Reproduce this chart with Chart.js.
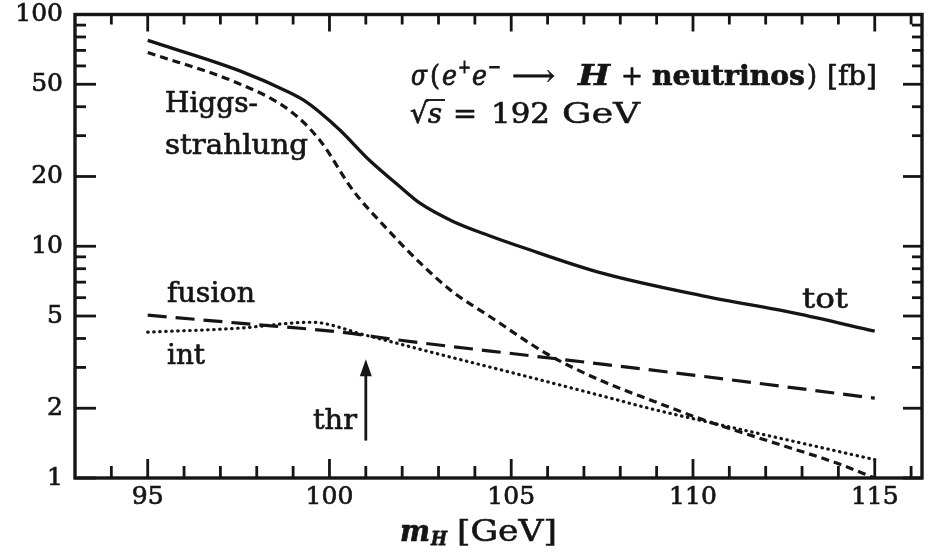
<!DOCTYPE html>
<html>
<head>
<meta charset="utf-8">
<script src="https://cdn.jsdelivr.net/npm/chart.js@4"></script>
<style>
html,body{margin:0;padding:0;background:#fff;}
#wrap{width:941px;height:553px;}
</style>
</head>
<body>
<div id="wrap"><canvas id="c" width="941" height="553"></canvas></div>
<script>
// ---- data (m_H in GeV, sigma in fb) ----
const totMass   = [95, 97.5, 98.9, 99.3, 99.74, 100.3, 101.1, 101.9, 102.5, 103.4, 104.4, 105.3, 107.5, 110.3, 112.8, 115];
const totSigma  = [77.3, 57.4, 46.1, 42.6, 37.8, 31.6, 23.5, 18.3, 15.3, 12.8, 11.1, 9.9, 7.65, 6.09, 5.14, 4.3];

const hsMass    = [95, 97.5, 98.9, 99.74, 100.65, 101.6, 102.5, 103.4, 104.4, 106.0, 107.5, 108.9, 110.3, 112.1, 113.95, 115];
const hsSigma   = [68.6, 50.4, 38.6, 28.6, 17.4, 11.8, 8.45, 6.34, 4.99, 3.42, 2.62, 2.15, 1.78, 1.44, 1.16, 1.0];

const fusMass   = [95, 97.5, 100.3, 101.95, 105.6, 107.5, 110.0, 115];
const fusSigma  = [5.04, 4.66, 4.26, 3.93, 3.36, 3.10, 2.78, 2.21];

const intMass   = [95, 97.5, 99.5, 101.0, 102.8, 105.6, 107.5, 108.9, 110.3, 112.1, 115];
const intSigma  = [4.26, 4.43, 4.70, 4.13, 3.49, 2.70, 2.26, 1.98, 1.76, 1.52, 1.20];

const xTickValues = [95, 100, 105, 110, 115];
const yTickValues = [1, 2, 5, 10, 20, 50, 100];

const thrMass = 101;          // threshold arrow position
const thrArrowFrom = 1.45;    // arrow tail (fb)
const thrArrowTo = 3.25;      // arrow tip (fb)

// ---- helpers ----
const pts = (xs, ys) => xs.map((x, i) => ({x: x, y: ys[i]}));
const INK = '#151515';
const SERIF = '"DejaVu Serif", "Liberation Serif", serif';

// draw text so that it spans [x0, x1] horizontally, vertically centred at yc
function fitText(ctx, t, font, x0, x1, yc) {
  ctx.font = font;
  const w = ctx.measureText(t).width;
  const k = (x1 - x0) / w;
  ctx.save();
  ctx.translate(x0, yc);
  ctx.scale(k, 1);
  ctx.fillText(t, 0, 0);
  ctx.lineWidth = 0.7 / k;
  ctx.strokeText(t, 0, 0);
  ctx.restore();
}

const frameTicks = {
  id: 'frameTicks',
  afterDatasetsDraw(chart) {
    const {ctx, chartArea: a, scales: {x, y}} = chart;
    ctx.save();
    ctx.strokeStyle = INK;
    ctx.fillStyle = INK;
    ctx.lineCap = 'butt';
    const line = (x1, y1, x2, y2) => { ctx.beginPath(); ctx.moveTo(x1, y1); ctx.lineTo(x2, y2); ctx.stroke(); };
    ctx.lineWidth = 2.8;
    for (let m = 94; m <= 116; m++) {
      const px = x.getPixelForValue(m);
      const major = xTickValues.includes(m);
      line(px, a.bottom, px, a.bottom - (major ? 19 : 12));
      line(px, a.top, px, a.top + (major ? 17 : 10));
    }
    for (let d = 1; d <= 100; d *= 10) {
      for (let k = 1; k < 10; k++) {
        const v = d * k;
        if (v > 100) break;
        const py = y.getPixelForValue(v);
        const major = yTickValues.includes(v);
        line(a.left, py, a.left + (major ? 21 : 11), py);
        line(a.right, py, a.right - (major ? 19 : 10), py);
      }
    }
    ctx.lineWidth = 3.4;
    ctx.strokeRect(a.left, a.top, a.right - a.left, a.bottom - a.top);

    // threshold arrow
    const ax = x.getPixelForValue(thrMass);
    const y0 = y.getPixelForValue(thrArrowFrom);
    const y1 = y.getPixelForValue(thrArrowTo);
    ctx.lineWidth = 2.8;
    line(ax, y0, ax, y1 + 10);
    ctx.beginPath();
    ctx.moveTo(ax, y1);
    ctx.lineTo(ax - 6, y1 + 17);
    ctx.lineTo(ax + 6, y1 + 17);
    ctx.closePath();
    ctx.fill();

    // texts
    ctx.textBaseline = 'middle';
    ctx.textAlign = 'left';
    const F = '28px ' + SERIF;
    fitText(ctx, 'Higgs-', F, 165, 258, 105);
    fitText(ctx, 'strahlung', F, 165, 308, 147);
    fitText(ctx, 'fusion', F, 167, 255, 295);
    fitText(ctx, 'int', F, 167, 205, 357);
    fitText(ctx, 'tot', F, 802, 848, 301);
    fitText(ctx, 'thr', F, 313, 357, 422);

    // sigma annotation
    const FI = 'italic 28px ' + SERIF, FB = 'bold 28px ' + SERIF,
          FBI = 'bold italic 28px ' + SERIF, FS = '19px ' + SERIF;
    const sy = 78;
    fitText(ctx, 'σ', FI, 411, 427, sy);
    fitText(ctx, '(', F, 430, 440, sy);
    fitText(ctx, 'e', FI, 442, 457, sy);
    fitText(ctx, '+', FS, 458, 471, sy - 10);
    fitText(ctx, 'e', FI, 472, 487, sy);
    fitText(ctx, '−', FS, 488, 501, sy - 10);
    fitText(ctx, '⟶', F, 512, 555, sy);
    fitText(ctx, 'H', FBI, 578, 610, sy);
    fitText(ctx, '+', F, 621, 643, sy);
    fitText(ctx, 'neutrinos', FB, 652, 805, sy);
    fitText(ctx, ')', F, 807, 817, sy);
    fitText(ctx, '[fb]', F, 827, 877, sy);

    // sqrt(s) line
    const qy = 116;
    fitText(ctx, '√', F, 410, 428, qy);
    fitText(ctx, 's', FI, 428, 442, qy);
    ctx.lineWidth = 1.9;
    line(426, qy - 16, 445, qy - 16);
    fitText(ctx, '=', F, 453, 477, qy);
    fitText(ctx, '192', F, 491, 550, qy);
    fitText(ctx, 'GeV', F, 562, 640, qy);

    // x axis title
    const ty = 533;
    fitText(ctx, 'm', 'bold italic 30px ' + SERIF, 400, 430, ty);
    fitText(ctx, 'H', 'bold italic 19px ' + SERIF, 431, 447, ty + 7);
    fitText(ctx, '[GeV]', '30px ' + SERIF, 457, 557, ty);
    ctx.restore();
  }
};

const common = {pointRadius: 0, borderColor: INK, fill: false, cubicInterpolationMode: 'monotone'};

new Chart(document.getElementById('c'), {
  type: 'line',
  data: {
    datasets: [
      Object.assign({label: 'tot', data: pts(totMass, totSigma), borderWidth: 3.3}, common),
      Object.assign({label: 'Higgsstrahlung', data: pts(hsMass, hsSigma), borderWidth: 3.2, borderDash: [8, 5]}, common),
      Object.assign({label: 'fusion', data: pts(fusMass, fusSigma), borderWidth: 3.2, borderDash: [19, 9]}, common),
      Object.assign({label: 'int', data: pts(intMass, intSigma), borderWidth: 3.2, borderDash: [0.5, 5.5], borderCapStyle: 'round'}, common)
    ]
  },
  options: {
    responsive: false,
    animation: false,
    devicePixelRatio: 1,
    layout: {padding: {top: 14, right: 19, left: 0, bottom: 0}},
    plugins: {legend: {display: false}, tooltip: {enabled: false}, title: {display: false}},
    scales: {
      x: {
        type: 'linear', min: 93, max: 116.3,
        grid: {display: false, drawTicks: false},
        border: {display: false},
        afterBuildTicks: s => { s.ticks = xTickValues.map(v => ({value: v})); },
        afterFit: s => { s.height = 75; },
        ticks: {color: INK, font: {family: SERIF, size: 25, lineHeight: 0.2}, padding: 17, maxRotation: 0, autoSkip: false,
                textStrokeColor: INK, textStrokeWidth: 0.7, callback: v => String(v)}
      },
      y: {
        type: 'logarithmic', min: 1, max: 100,
        grid: {display: false, drawTicks: false},
        border: {display: false},
        afterBuildTicks: s => { s.ticks = yTickValues.map(v => ({value: v})); },
        afterFit: s => { s.width = 75; },
        ticks: {color: INK, font: {family: SERIF, size: 25, lineHeight: 0.2}, padding: 12, autoSkip: false,
                textStrokeColor: INK, textStrokeWidth: 0.7, callback: v => String(v)}
      }
    }
  },
  plugins: [frameTicks]
});
</script>
</body>
</html>
